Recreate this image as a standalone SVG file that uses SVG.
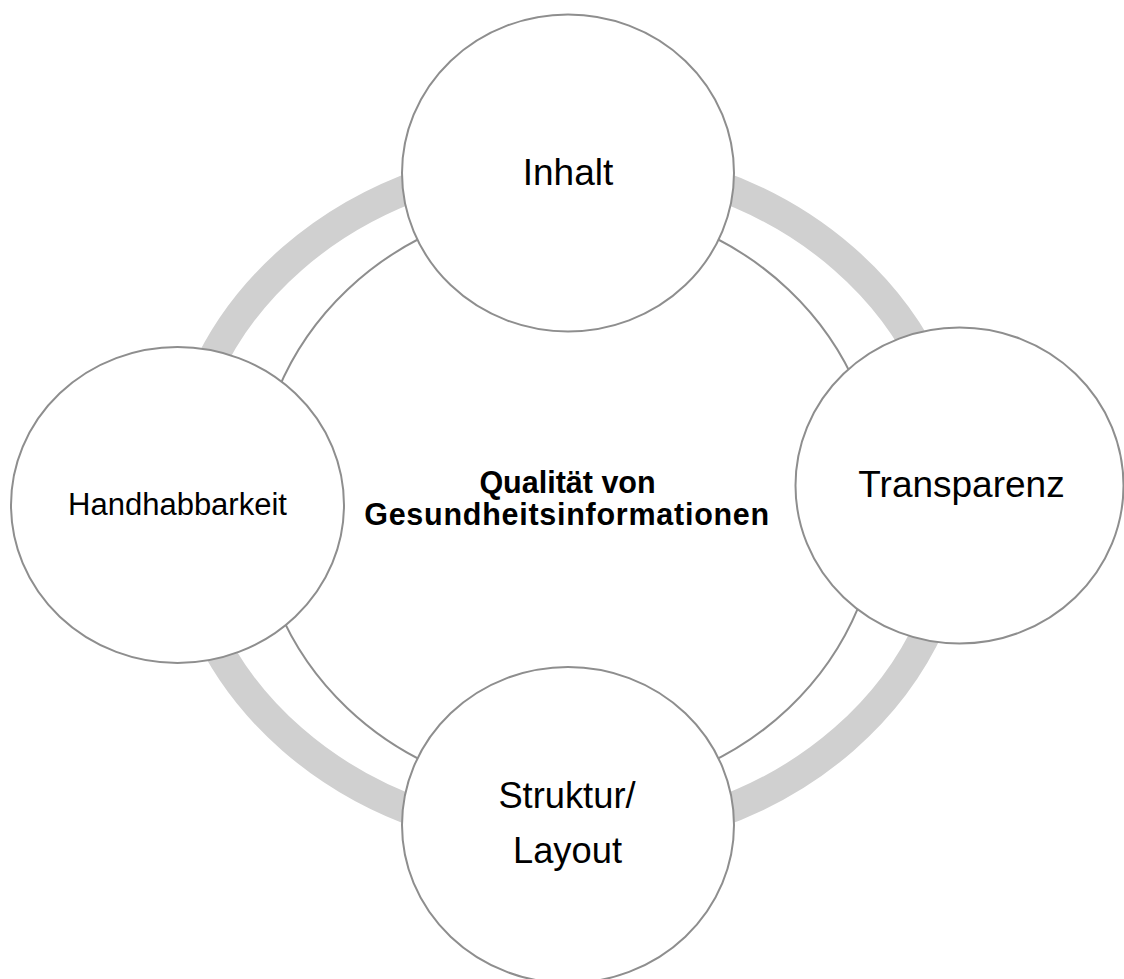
<svg xmlns="http://www.w3.org/2000/svg" width="1124" height="979" viewBox="0 0 1124 979">
  <style>
    .ring { fill: none; stroke: #d0d0d0; stroke-width: 30; }
    .node { fill: #ffffff; stroke: #8e8e8e; stroke-width: 2; }
    .hub { fill: #ffffff; stroke: #8e8e8e; stroke-width: 2; }
    .label { font-family: "Liberation Sans", Arial, sans-serif; fill: #000000; text-anchor: middle; }
    .title { font-family: "Liberation Sans", Arial, sans-serif; font-weight: bold; fill: #000000; text-anchor: middle; }
  </style>

  <rect x="0" y="0" width="1124" height="979" fill="#ffffff"/>

  <!-- cycle ring linking the four aspects -->
  <g id="connectors">
    <ellipse class="ring" cx="568" cy="499" rx="390" ry="340"/>
  </g>

  <!-- central topic -->
  <g id="node-center">
    <ellipse class="hub" cx="568" cy="499" rx="312" ry="296"/>
    <text class="title" font-size="30.5" x="567.5" y="492.5">Qualität von</text>
    <text class="title" font-size="30.5" x="566.7" y="525" textLength="405" lengthAdjust="spacing">Gesundheitsinformationen</text>
  </g>

  <g id="node-inhalt">
    <ellipse class="node" cx="568" cy="173" rx="166" ry="158.5"/>
    <text class="label" font-size="37" x="568" y="185">Inhalt</text>
  </g>

  <g id="node-transparenz">
    <ellipse class="node" cx="959.5" cy="485.5" rx="164" ry="158"/>
    <text class="label" font-size="37" x="961.5" y="497">Transparenz</text>
  </g>

  <g id="node-struktur">
    <ellipse class="node" cx="568" cy="825" rx="166" ry="158"/>
    <text class="label" font-size="36.3" x="567" y="808">Struktur/</text>
    <text class="label" font-size="36.3" x="567.5" y="863">Layout</text>
  </g>

  <g id="node-handhabbarkeit">
    <ellipse class="node" cx="177.5" cy="505" rx="166.5" ry="158"/>
    <text class="label" font-size="31" x="177.5" y="515">Handhabbarkeit</text>
  </g>
</svg>
